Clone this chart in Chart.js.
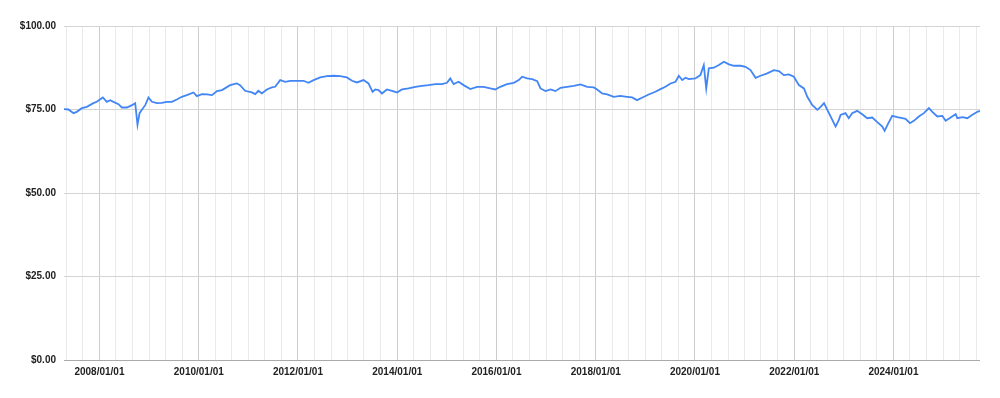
<!DOCTYPE html>
<html>
<head>
<meta charset="utf-8">
<script src="https://cdn.jsdelivr.net/npm/chart.js@4.4.1/dist/chart.umd.min.js"></script>
<style>
  html, body { margin: 0; padding: 0; background: #ffffff; }
  #wrap { width: 1000px; height: 398px; }
</style>
</head>
<body>
<div id="wrap"><canvas id="c" width="1000" height="398"></canvas></div>
<script>
// ---- Data ----
const dates = [
  '2007-04-15','2007-05-18','2007-06-24','2007-07-18','2007-08-24','2007-09-30','2007-11-17','2007-12-12',
  '2008-01-26','2008-02-24','2008-03-20','2008-04-13','2008-05-20','2008-06-14','2008-07-21','2008-08-27',
  '2008-09-20','2008-10-07','2008-10-22','2008-11-08','2008-12-03','2008-12-27',
  '2009-01-21','2009-02-27','2009-04-04','2009-05-11','2009-06-17','2009-07-23','2009-08-29','2009-10-05',
  '2009-11-23','2009-12-18',
  '2010-01-24','2010-03-02','2010-04-08','2010-05-15','2010-06-21','2010-08-20','2010-10-08','2010-11-01','2010-12-08',
  '2011-01-26','2011-02-20','2011-03-16','2011-04-10','2011-05-17','2011-06-23','2011-07-17','2011-08-23',
  '2011-09-29','2011-11-05','2011-12-24',
  '2012-02-11','2012-03-18','2012-04-25','2012-06-13','2012-08-01','2012-09-19','2012-11-07','2012-12-26',
  '2013-02-02','2013-03-10','2013-04-28','2013-06-03','2013-07-03','2013-07-23','2013-08-16','2013-09-10',
  '2013-10-17','2013-11-23','2013-12-30',
  '2014-02-05','2014-03-25','2014-05-14','2014-07-02','2014-08-19','2014-10-08','2014-11-26',
  '2015-01-02','2015-01-26','2015-02-20','2015-03-28','2015-05-04','2015-06-23','2015-08-11','2015-09-28',
  '2015-11-17','2015-12-23',
  '2016-01-29','2016-03-19','2016-05-07','2016-06-13','2016-07-08','2016-08-14','2016-09-20','2016-10-27',
  '2016-11-20','2016-12-27',
  '2017-02-02','2017-03-10','2017-04-16','2017-06-04','2017-07-23','2017-09-10','2017-10-30','2017-12-17',
  '2018-01-11','2018-02-17','2018-03-26','2018-05-13','2018-07-01','2018-08-19','2018-09-25','2018-11-01','2018-12-07',
  '2019-01-25','2019-03-16','2019-04-22','2019-05-29','2019-07-05','2019-08-11','2019-09-04','2019-09-29',
  '2019-10-23','2019-11-17',
  '2020-01-04','2020-02-10','2020-03-06','2020-03-24','2020-04-12','2020-05-19','2020-06-25','2020-08-01',
  '2020-09-07','2020-10-14','2020-12-03',
  '2021-01-07','2021-02-13','2021-03-22','2021-04-28','2021-06-16','2021-08-04','2021-09-10','2021-10-16',
  '2021-11-22','2021-12-29',
  '2022-02-04','2022-03-13','2022-04-07','2022-05-14','2022-06-20','2022-07-14','2022-08-08','2022-09-01',
  '2022-10-08','2022-11-01','2022-11-25','2022-12-08',
  '2023-01-13','2023-02-06','2023-03-03','2023-04-09','2023-05-16','2023-06-22','2023-07-29','2023-09-04',
  '2023-10-11','2023-10-28','2023-11-21','2023-12-23',
  '2024-01-29','2024-03-06','2024-03-30','2024-05-01','2024-05-30','2024-07-06','2024-08-12','2024-09-18',
  '2024-10-13','2024-11-19','2024-12-26',
  '2025-01-19','2025-02-25','2025-04-03','2025-04-15','2025-05-22','2025-06-28','2025-08-04','2025-09-10','2025-09-29'
];
const prices = [
  75.1,75.0,73.9,74.3,75.4,75.8,76.9,77.3,
  78.6,77.3,77.8,77.3,76.6,75.6,75.6,76.3,
  76.9,70.4,73.9,74.9,76.3,78.6,
  77.3,76.9,77.0,77.3,77.3,78.0,78.8,79.3,
  80.1,79.0,
  79.6,79.5,79.3,80.5,80.8,82.3,82.8,82.3,80.6,
  80.1,79.6,80.6,79.8,81.0,81.6,81.8,83.8,
  83.3,83.6,83.6,
  83.6,83.0,83.8,84.6,85.0,85.1,85.0,84.6,
  83.6,83.1,83.8,82.8,80.3,81.0,80.8,79.8,
  81.0,80.6,80.1,
  81.0,81.3,81.8,82.1,82.3,82.6,82.6,
  83.0,84.3,82.6,83.3,82.3,81.1,81.8,81.8,
  81.3,81.0,
  81.8,82.6,83.0,83.8,84.8,84.3,84.1,83.5,
  81.3,80.5,
  81.0,80.5,81.5,81.8,82.1,82.5,81.8,81.6,
  81.0,79.8,79.5,78.8,79.1,78.8,78.6,77.8,78.5,
  79.5,80.3,81.1,81.8,82.8,83.3,85.1,83.8,
  84.5,84.1,
  84.3,85.3,88.3,81.3,87.3,87.5,88.3,89.3,
  88.5,88.1,88.1,
  87.8,86.8,84.5,85.1,85.8,86.8,86.5,85.3,
  85.5,84.8,
  82.3,81.3,78.8,76.3,74.9,75.8,76.9,74.9,
  71.9,69.9,71.9,73.4,
  73.9,72.4,73.9,74.6,73.6,72.4,72.6,71.2,
  69.9,68.6,70.6,73.1,
  72.7,72.4,72.2,70.9,71.6,72.9,73.9,75.4,
  74.3,72.9,73.1,
  71.6,72.6,73.6,72.4,72.7,72.4,73.4,74.3,74.6
];
const yTickValues = [0, 25, 50, 75, 100];
const xTickLabels = ['2008/01/01','2010/01/01','2012/01/01','2014/01/01','2016/01/01','2018/01/01','2020/01/01','2022/01/01','2024/01/01'];

// ---- Helpers ----
function toMs(s) { const p = s.split('-').map(Number); return Date.UTC(p[0], p[1] - 1, p[2]); }
function fmtDate(ms) {
  const d = new Date(ms);
  const m = String(d.getUTCMonth() + 1).padStart(2, '0');
  const day = String(d.getUTCDate()).padStart(2, '0');
  return d.getUTCFullYear() + '/' + m + '/' + day;
}
const points = dates.map((d, i) => ({ x: toMs(d), y: prices[i] }));
const xMin = toMs(dates[0]);
const xMax = toMs(dates[dates.length - 1]);

// vertical grid every 4 months
const gridTicks = [];
for (let y = 2007; y <= 2025; y++) {
  for (let m = 0; m < 12; m += 4) {
    const t = Date.UTC(y, m, 1);
    if (t > xMin && t < xMax) gridTicks.push(t);
  }
}

const FONT = '"Liberation Sans", Arial, sans-serif';

new Chart(document.getElementById('c'), {
  type: 'line',
  data: {
    datasets: [{
      data: points,
      borderColor: '#4285F4',
      borderWidth: 1.8,
      pointRadius: 0,
      tension: 0,
      fill: false
    }]
  },
  options: {
    responsive: false,
    animation: false,
    devicePixelRatio: 1,
    layout: { padding: { left: 0, right: 20, top: 26, bottom: 0 } },
    plugins: { legend: { display: false }, tooltip: { enabled: false } },
    scales: {
      x: {
        type: 'linear',
        min: xMin,
        max: xMax,
        afterBuildTicks: (s) => { s.ticks = gridTicks.map(v => ({ value: v })); },
        afterFit: (s) => { s.height = 38; },
        border: { display: false },
        grid: {
          drawTicks: false,
          color: (ctx) => {
            const v = ctx.tick ? ctx.tick.value : null;
            if (v === null) return '#ebebeb';
            return xTickLabels.includes(fmtDate(v)) ? '#cccccc' : '#ebebeb';
          },
          lineWidth: 1
        },
        ticks: {
          autoSkip: false,
          maxRotation: 0,
          padding: 6,
          color: '#222222',
          font: { family: FONT, size: 10, weight: 'bold' },
          callback: (v) => { const s = fmtDate(v); return xTickLabels.includes(s) ? s : ''; }
        }
      },
      y: {
        min: 0,
        max: 100,
        afterBuildTicks: (s) => { s.ticks = yTickValues.map(v => ({ value: v })); },
        afterFit: (s) => { s.width = 64; },
        border: { display: false },
        grid: {
          drawTicks: false,
          color: (ctx) => (ctx.tick && ctx.tick.value === 0) ? '#aaaaaa' : '#d4d4d4',
          lineWidth: 1
        },
        ticks: {
          padding: 8,
          color: '#222222',
          font: { family: FONT, size: 10, weight: 'bold' },
          callback: (v) => '$' + Number(v).toFixed(2)
        }
      }
    }
  }
});
</script>
</body>
</html>
